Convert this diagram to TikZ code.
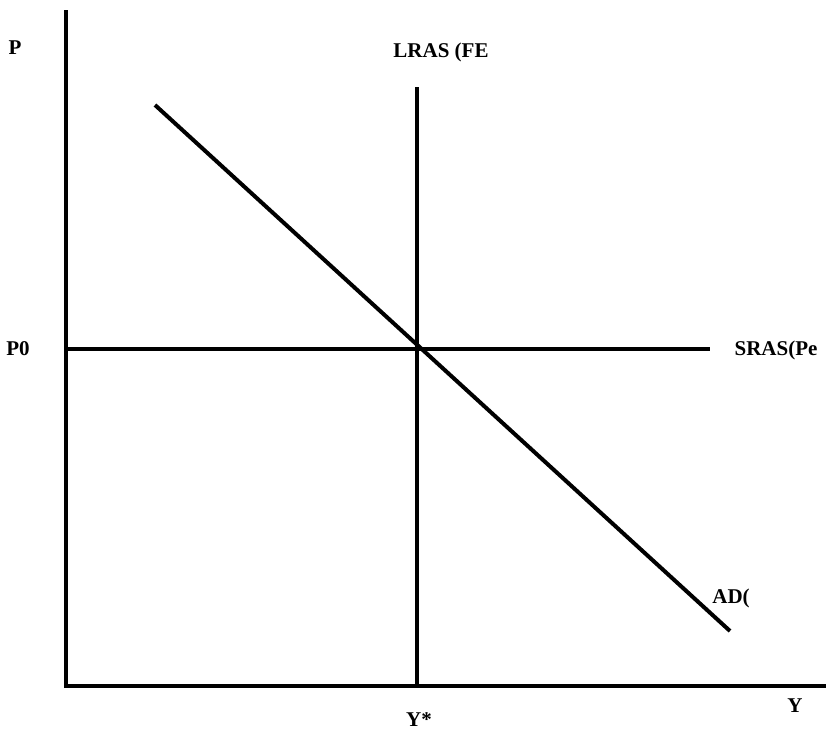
\documentclass[tikz,border=0pt]{standalone}
\usepackage{fontspec}
\setmainfont{Liberation Serif}
\begin{document}
\begin{tikzpicture}[x=1pt,y=-1pt,
  curve/.style={line width=4pt},
  axis/.style={line width=4pt},
  lbl/.style={font=\fontsize{21}{24}\selectfont\bfseries, inner sep=0pt}]
\useasboundingbox (0,0) rectangle (832,739);
\coordinate (o) at (66,686);
\coordinate (ytop) at (66,10);
\coordinate (xend) at (826,686);
\draw[axis] (ytop) -- (o) -- (xend);
\coordinate (ltop) at (417,87);
\coordinate (lbot) at (417,686);
\draw[curve] (ltop) -- (lbot);
\coordinate (sl) at (66,349);
\coordinate (sr) at (710,349);
\draw[curve] (sl) -- (sr);
\coordinate (adt) at (155,105);
\coordinate (adb) at (730,631);
\draw[curve] (adt) -- (adb);
\node[lbl] (p) at (15,48) {P};
\node[lbl] (lras) at (441,52) {LRAS (FE};
\node[lbl] (p0) at (18,349) {P0};
\node[lbl] (sras) at (776,350) {SRAS(Pe};
\node[lbl] (ad) at (731,598) {AD(};
\node[lbl] (y) at (795,706) {Y};
\node[lbl] (ys) at (419,720) {Y*};
\end{tikzpicture}
\end{document}
